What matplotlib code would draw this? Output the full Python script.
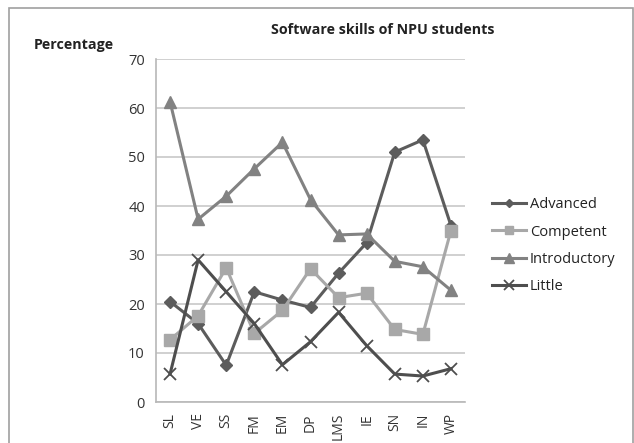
import matplotlib
matplotlib.use("Agg")
import matplotlib.pyplot as plt
from matplotlib.patches import Rectangle

categories = ["SL", "VE", "SS", "FM", "EM", "DP", "LMS", "IE", "SN", "IN", "WP"]
advanced = [20.5, 16.0, 7.5, 22.5, 20.8, 19.3, 26.3, 32.5, 51.0, 53.5, 36.0]
competent = [12.7, 17.6, 27.4, 14.0, 18.7, 27.2, 21.3, 22.2, 14.8, 13.8, 35.0]
introductory = [61.3, 37.3, 42.0, 47.6, 53.0, 41.3, 34.1, 34.3, 28.7, 27.6, 22.8]
little = [5.7, 29.0, 22.5, 16.0, 7.6, 12.3, 18.3, 11.5, 5.7, 5.3, 6.8]
yticks = [0, 10, 20, 30, 40, 50, 60, 70]

plt.rcParams['font.family'] = ['Open Sans', 'DejaVu Sans']

fig = plt.figure(figsize=(6.34, 4.43), dpi=100)
fig.patch.set_facecolor('white')
# outer frame
fig.patches.append(Rectangle((9/634, -0.01), (633-9)/634, (443-8)/443 + 0.01, transform=fig.transFigure,
                             fill=False, edgecolor='#a0a0a0', linewidth=1.2))

ax = fig.add_axes([156/634, (443-402)/443, (465-156)/634, (402-59)/443])
x = range(len(categories))

ax.plot(x, advanced, color='#5c5c5c', lw=2.2, marker='D', ms=6, label='Advanced', zorder=3)
ax.plot(x, competent, color='#a8a8a8', lw=2.2, marker='s', ms=8, label='Competent', zorder=3)
ax.plot(x, introductory, color='#828282', lw=2.2, marker='^', ms=9, label='Introductory', zorder=3)
ax.plot(x, little, color='#4e4e4e', lw=2.2, marker='x', ms=9, mew=1.3, label='Little', zorder=4)

ax.set_xlim(-0.5, len(categories) - 0.5)
ax.set_ylim(0, 70)
ax.set_yticks(yticks)
ax.set_yticklabels([str(v) for v in yticks], fontsize=10.5, color='#333333')
ax.set_xticks(list(x))
ax.set_xticklabels(categories, rotation=90, fontsize=10, color='#333333')
ax.tick_params(axis='both', length=0, pad=8)
ax.yaxis.grid(True, color='#c8c8c8', lw=1.2)
ax.set_axisbelow(True)
for s in ['top', 'right']:
    ax.spines[s].set_visible(False)
for s in ['left', 'bottom']:
    ax.spines[s].set_color('#b8b8b8')
    ax.spines[s].set_linewidth(1.2)

fig.text(383/634, 1 - 30/443, 'Software skills of NPU students', ha='center', va='center',
         fontsize=10.3, fontweight='bold', color='#222222')
fig.text(34/634, 1 - 45/443, 'Percentage', ha='left', va='center',
         fontsize=10.3, fontweight='bold', color='#222222')

leg = fig.legend(loc='upper left', bbox_to_anchor=(479/634, 1 - 184/443), frameon=False,
                 fontsize=10.5, handlelength=2.3, labelspacing=0.85, handletextpad=0.3,
                 markerscale=0.75)
for t in leg.get_texts():
    t.set_color('#222222')

fig.savefig('out.png', dpi=100)
